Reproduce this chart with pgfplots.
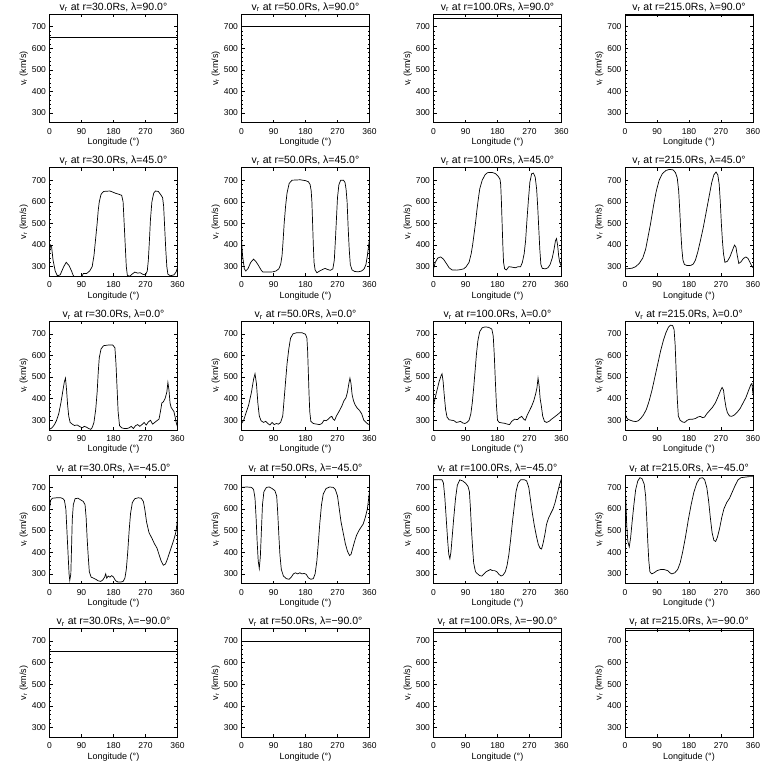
\documentclass[border=0pt]{standalone}
\usepackage{fontspec}
\setmainfont{Liberation Sans}
\usepackage{pgfplots}
\pgfplotsset{compat=1.18}
\pgfplotsset{panel/.style={
  scale only axis, width=128pt, height=108.5pt, anchor=south west,
  xmin=0, xmax=360, ymin=255, ymax=757,
  xtick={0,90,180,270,360}, ytick={300,400,500,600,700},
  minor y tick num=4,
  tick align=inside, major tick length=3pt, minor tick length=1.5pt,
  axis line style={line width=0.8pt},
  every tick/.style={black, line width=0.6pt},
  /pgf/number format/assume math mode=true,
  tick label style={font=\fontsize{8.5}{9}\selectfont},
  xticklabel style={yshift=-2pt},
  xlabel={Longitude (°)}, ylabel={v\textsubscript{r} (km/s)},
  label style={font=\fontsize{9}{10}\selectfont},
  every axis title shift=0pt,
  title style={font=\fontsize{10.5}{12}\selectfont, at={(0.5,1)}, anchor=base, yshift=4pt, inner sep=0pt},
  xlabel style={yshift=3pt}, ylabel style={yshift=-3pt},
  every axis plot post/.append style={black, line width=0.7pt, mark=none},
}}
\newcommand{\panel}[5]{%
  \begin{axis}[panel, at={(#1pt,#2pt)}, title={v\textsubscript{r} at r=#3Rs, λ=#4°}]
  \addplot coordinates {#5};
  \end{axis}}
\begin{document}
\begin{tikzpicture}
\useasboundingbox (0,0) rectangle (768pt,768pt);
% row 1 (lambda = 90)
\panel{49.5}{645.2}{30.0}{90.0}{(0,650) (360,650)}
\panel{241.5}{645.2}{50.0}{90.0}{(0,700) (360,700)}
\panel{433.5}{645.2}{100.0}{90.0}{(0,738) (360,738)}
\panel{625}{645.2}{215.0}{90.0}{(0,751) (360,751)}
% row 2 (lambda = 45)
\panel{49.5}{491.6}{30.0}{45.0}{(0,360) (3,400) (6,390) (10,330) (16,280) (22,258) (30,262) (40,300) (47,320) (55,305) (62,280) (66,262) (70,252) (90,252) (95,268) (104,268) (113,280) (120,300) (125,350) (128,400) (131,450) (134,500) (137,560) (140,600) (145,635) (152,648) (170,650) (178,645) (185,640) (195,635) (203,630) (207,600) (210,500) (213,400) (216,300) (219,260) (225,255) (232,265) (240,275) (248,270) (255,272) (262,265) (270,262) (275,280) (278,330) (281,420) (284,520) (288,600) (293,640) (298,650) (306,648) (312,635) (318,620) (321,580) (324,480) (327,380) (330,300) (333,265) (340,258) (350,262) (356,275) (360,295)}
\panel{241.5}{491.6}{50.0}{45.0}{(0,430) (3,350) (8,290) (12,280) (18,290) (26,320) (34,335) (40,325) (48,305) (55,285) (60,275) (75,275) (88,276) (97,280) (105,290) (110,310) (114,350) (117,420) (120,500) (124,580) (128,640) (134,685) (142,700) (165,702) (180,698) (188,693) (193,680) (196,650) (198,600) (200,500) (202,400) (204,320) (207,285) (212,272) (220,280) (228,287) (235,292) (242,287) (250,283) (257,290) (261,330) (264,420) (267,520) (270,620) (274,680) (279,700) (287,700) (291,690) (294,660) (297,600) (300,480) (303,380) (306,310) (311,285) (318,278) (328,276) (338,280) (345,290) (350,310) (354,350) (357,390) (360,430)}
\panel{433.5}{491.6}{100.0}{45.0}{(0,290) (5,320) (12,340) (20,345) (28,335) (36,315) (44,295) (52,285) (65,284) (75,286) (85,290) (92,300) (100,320) (106,360) (110,400) (114,450) (118,500) (122,560) (125,600) (130,660) (137,700) (145,725) (152,735) (165,736) (175,730) (182,718) (187,705) (189,680) (191,600) (193,500) (195,400) (197,320) (200,290) (205,285) (212,300) (220,298) (230,295) (238,300) (245,300) (250,320) (255,360) (259,420) (263,520) (267,610) (271,690) (276,730) (281,733) (286,715) (290,660) (293,580) (296,480) (299,380) (302,310) (306,292) (315,290) (322,295) (328,310) (334,340) (339,380) (343,420) (346,430) (349,400) (352,350) (355,320) (360,300)}
\panel{625}{491.6}{215.0}{45.0}{(0,290) (10,291) (20,293) (30,300) (40,315) (50,340) (58,380) (65,440) (72,500) (80,580) (88,650) (96,700) (105,730) (115,745) (125,750) (135,748) (142,735) (147,710) (151,650) (154,560) (157,460) (160,380) (163,330) (167,310) (175,305) (185,306) (192,312) (198,330) (205,370) (212,420) (220,480) (228,550) (236,620) (244,690) (250,725) (256,738) (261,725) (265,680) (268,600) (271,500) (274,420) (277,360) (281,320) (288,325) (295,345) (302,375) (308,400) (312,390) (316,350) (320,315) (326,322) (333,338) (340,345) (346,338) (352,318) (356,305) (360,295)}
% row 3 (lambda = 0)
\panel{49.5}{338.0}{30.0}{0.0}{(0,258) (7,265) (14,280) (20,300) (26,330) (32,380) (38,440) (42,480) (45,495) (48,440) (51,370) (54,320) (58,290) (64,282) (70,276) (78,278) (86,270) (92,265) (98,272) (104,268) (110,262) (116,258) (120,266) (125,290) (130,350) (134,430) (137,520) (140,590) (145,630) (152,645) (165,648) (178,648) (184,635) (187,560) (190,450) (193,340) (197,275) (203,265) (210,262) (218,262) (224,265) (230,272) (236,262) (242,275) (248,280) (254,272) (260,280) (266,290) (272,278) (278,292) (284,300) (290,282) (296,290) (302,298) (308,305) (312,340) (316,380) (320,385) (325,400) (330,430) (333,475) (336,440) (339,380) (342,360) (346,350) (350,340) (354,310) (357,285) (360,270)}
\panel{241.5}{338.0}{50.0}{0.0}{(0,285) (6,300) (12,330) (20,370) (28,430) (34,490) (38,515) (42,470) (46,380) (50,320) (55,298) (62,290) (68,295) (74,285) (80,278) (86,290) (92,280) (98,285) (104,282) (110,290) (116,320) (120,400) (124,480) (128,560) (133,630) (138,680) (145,700) (155,705) (170,705) (180,698) (184,680) (186,620) (188,520) (190,420) (192,340) (195,295) (202,285) (212,282) (220,280) (226,285) (232,300) (238,298) (244,305) (250,315) (254,318) (258,305) (262,300) (267,320) (274,340) (282,365) (288,390) (294,405) (298,430) (302,470) (305,495) (308,470) (311,420) (315,390) (320,370) (326,355) (332,345) (338,330) (344,300) (350,290) (356,282) (360,280)}
\panel{433.5}{338.0}{100.0}{0.0}{(0,370) (4,400) (10,440) (16,480) (21,505) (24,515) (27,480) (30,420) (34,350) (38,315) (44,302) (52,300) (58,298) (64,290) (70,292) (76,295) (82,288) (88,285) (94,290) (100,300) (105,330) (109,380) (113,450) (117,530) (121,610) (125,670) (130,710) (137,728) (145,732) (155,730) (164,722) (168,690) (171,600) (174,480) (177,370) (180,300) (185,290) (192,288) (200,286) (208,282) (214,280) (220,295) (228,305) (236,303) (242,312) (248,318) (254,305) (258,300) (264,325) (270,345) (276,365) (282,390) (287,420) (291,450) (294,495) (297,460) (300,400) (303,370) (307,320) (312,295) (318,290) (325,295) (332,305) (340,315) (348,325) (355,335) (360,340)}
\panel{625}{338.0}{215.0}{0.0}{(0,345) (3,315) (8,305) (15,300) (22,296) (30,294) (38,298) (45,310) (52,325) (60,350) (68,390) (76,440) (84,500) (92,560) (100,620) (108,670) (115,705) (122,730) (128,740) (134,738) (138,720) (141,650) (144,520) (147,400) (150,320) (155,300) (162,292) (168,290) (175,300) (182,305) (190,305) (198,308) (205,315) (212,318) (218,312) (224,315) (230,330) (238,345) (246,360) (254,380) (262,410) (268,435) (273,452) (277,440) (280,400) (284,360) (288,335) (294,320) (300,318) (308,325) (316,338) (324,355) (332,380) (340,405) (348,440) (354,465) (357,470) (360,420)}
% row 4 (lambda = -45)
\panel{49.5}{184.4}{30.0}{−45.0}{(0,600) (3,640) (8,650) (20,652) (32,652) (38,648) (42,640) (46,600) (49,500) (52,400) (55,300) (57,270) (60,300) (62,420) (64,550) (67,620) (72,648) (80,650) (88,642) (95,635) (100,620) (103,560) (106,460) (109,380) (112,310) (117,285) (124,280) (130,275) (137,268) (144,265) (150,272) (155,285) (158,300) (161,280) (165,290) (170,285) (175,292) (180,285) (186,268) (193,262) (200,262) (207,265) (212,280) (216,320) (220,400) (224,500) (228,580) (233,630) (240,648) (250,652) (258,650) (264,635) (268,600) (273,540) (280,490) (288,465) (295,440) (302,420) (308,390) (314,360) (320,340) (326,345) (332,370) (338,400) (344,430) (350,460) (355,490) (358,520) (360,560)}
\panel{241.5}{184.4}{50.0}{−45.0}{(0,700) (15,702) (28,700) (34,690) (38,650) (41,560) (44,450) (47,360) (50,325) (53,380) (56,500) (59,620) (63,680) (70,700) (78,702) (86,695) (94,685) (99,660) (102,580) (105,480) (108,390) (112,320) (118,290) (126,278) (134,275) (140,285) (146,300) (152,305) (158,300) (164,305) (170,300) (176,302) (182,298) (188,282) (195,275) (202,278) (207,300) (212,360) (216,440) (220,530) (225,620) (230,670) (238,695) (248,702) (258,700) (264,690) (270,660) (275,600) (280,540) (286,490) (292,440) (298,405) (304,385) (308,390) (313,420) (318,450) (324,480) (330,500) (336,515) (342,530) (348,560) (354,600) (360,680)}
\panel{433.5}{184.4}{100.0}{−45.0}{(0,735) (15,736) (24,735) (28,720) (32,650) (36,550) (40,450) (43,390) (46,370) (49,400) (53,480) (57,560) (62,650) (67,710) (74,735) (82,730) (90,720) (97,705) (101,680) (104,600) (107,500) (110,420) (113,350) (118,310) (124,300) (130,292) (136,290) (142,300) (148,310) (154,315) (160,320) (166,315) (172,315) (178,310) (184,298) (190,290) (196,295) (202,310) (207,340) (212,390) (217,460) (222,540) (227,610) (232,680) (238,720) (245,735) (255,736) (262,730) (268,700) (273,640) (278,580) (284,520) (290,470) (295,435) (300,418) (304,415) (308,440) (313,480) (318,530) (324,560) (330,580) (336,600) (342,630) (348,670) (354,710) (360,740)}
\panel{625}{184.4}{215.0}{−45.0}{(0,745) (2,650) (5,520) (8,450) (12,425) (16,470) (20,540) (25,620) (30,690) (36,730) (42,745) (48,740) (54,715) (58,660) (61,560) (64,450) (67,360) (70,310) (75,300) (82,305) (90,315) (100,320) (110,320) (120,315) (126,305) (132,300) (140,305) (148,320) (155,350) (162,400) (170,470) (178,550) (186,620) (194,680) (202,720) (210,742) (218,745) (224,735) (230,700) (235,640) (240,560) (245,490) (250,455) (255,450) (260,470) (266,510) (272,560) (278,600) (286,630) (294,650) (302,680) (310,710) (318,735) (326,745) (340,748) (350,750) (360,750)}
% row 5 (lambda = -90)
\panel{49.5}{30.8}{30.0}{−90.0}{(0,650) (360,650)}
\panel{241.5}{30.8}{50.0}{−90.0}{(0,700) (360,700)}
\panel{433.5}{30.8}{100.0}{−90.0}{(0,738) (360,738)}
\panel{625}{30.8}{215.0}{−90.0}{(0,751) (360,751)}
\end{tikzpicture}
\end{document}
